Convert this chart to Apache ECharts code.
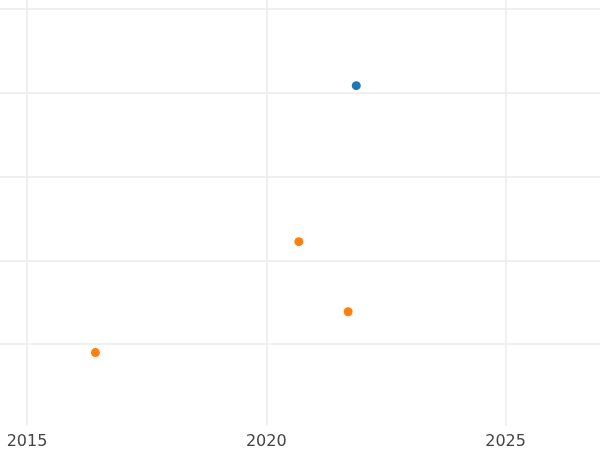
<!DOCTYPE html>
<html><head><meta charset="utf-8">
<script src="https://cdn.jsdelivr.net/npm/echarts@6/dist/echarts.min.js"></script>
<style>html,body{margin:0;padding:0;background:#fff}#c{width:600px;height:450px}</style>
</head><body><div id="c"></div>
<script>
const blueX=[2021.88], blueY=[3.08];
const orangeX=[2020.68,2021.71,2016.43], orangeY=[1.21,0.37,-0.12];
const xTicks=[2015,2020,2025];
const chart=echarts.init(document.getElementById('c'));
const pts=(xs,ys)=>xs.map((x,i)=>[x,ys[i]]);
const gl={color:'#ebebeb',width:1.5};
chart.setOption({
  animation:false,
  grid:[{left:27,right:0,top:0,bottom:22},{left:0,right:0,top:0,bottom:22}],
  xAxis:[{type:'value',gridIndex:0,min:2015,max:2026.91,interval:5,
    axisLine:{show:false},axisTick:{show:false},
    axisLabel:{fontFamily:'DejaVu Sans',fontSize:16,color:'#444',margin:8,
      formatter:v=>xTicks.includes(v)?String(v):''},
    splitLine:{show:true,showMaxLine:false,lineStyle:gl}},
    {type:'value',gridIndex:1,min:0,max:1,show:false,splitLine:{show:false}}],
  yAxis:[{type:'value',gridIndex:0,min:-1,max:4.107,interval:1,show:false,splitLine:{show:false}},
    {type:'value',gridIndex:1,min:-1,max:4.107,interval:1,
    axisLine:{show:false},axisTick:{show:false},axisLabel:{show:false},
    splitLine:{show:true,showMinLine:false,showMaxLine:false,lineStyle:gl}}],
  series:[
    {type:'scatter',data:pts(blueX,blueY),symbolSize:9,itemStyle:{color:'#1f77b4',opacity:1}},
    {type:'scatter',data:pts(orangeX,orangeY),symbolSize:9,itemStyle:{color:'#ff7f0e',opacity:1}}
  ]
});
</script></body></html>
